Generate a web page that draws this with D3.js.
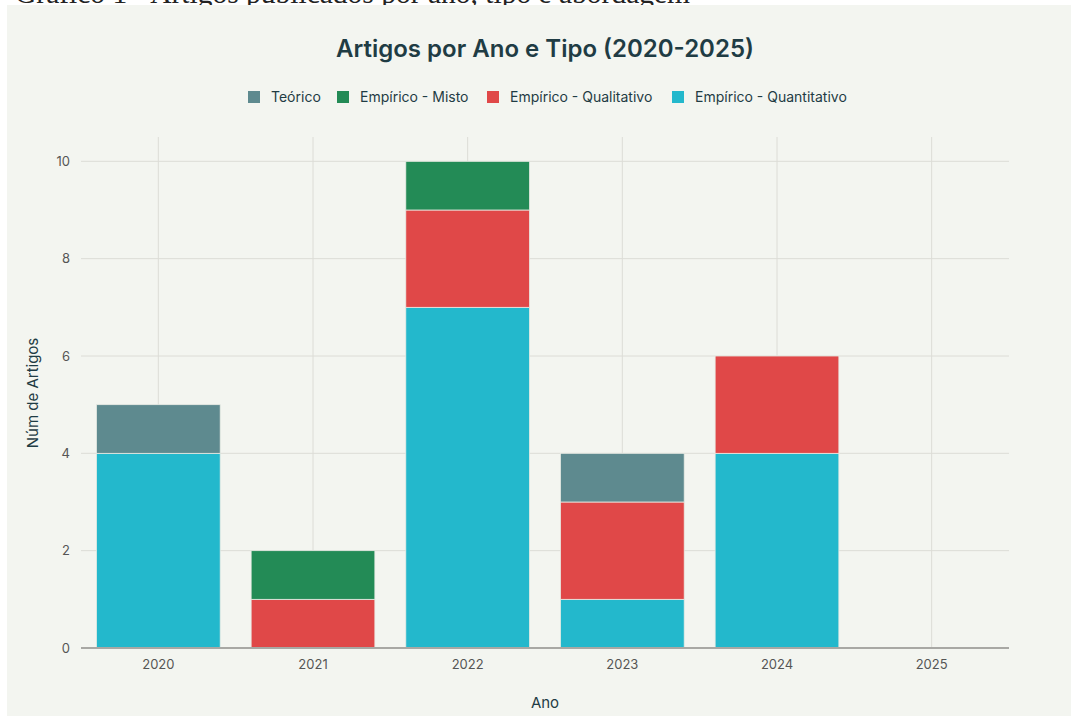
<!DOCTYPE html>
<html><head><meta charset="utf-8">
<script src="https://cdn.jsdelivr.net/npm/d3@7"></script>
<style>body{margin:0;background:#fff;}svg{display:block;}</style>
</head><body>
<script>
const years = ["2020","2021","2022","2023","2024","2025"];
const seriesNames = ["Empírico - Quantitativo","Empírico - Qualitativo","Empírico - Misto","Teórico"];
const quantitativo = [4,0,7,1,4,0];
const qualitativo = [0,1,2,2,2,0];
const misto = [0,1,1,0,0,0];
const teorico = [1,0,0,1,0,0];
const yTicks = [0,2,4,6,8,10];
const legendOrder = ["Teórico","Empírico - Misto","Empírico - Qualitativo","Empírico - Quantitativo"];
const colors = {"Teórico":"#5e8a8f","Empírico - Misto":"#238b56","Empírico - Qualitativo":"#e04848","Empírico - Quantitativo":"#23b8cc"};

const W=1071,H=716;
const font="Inter, 'Open Sans', sans-serif";
const svg=d3.select("body").append("svg").attr("width",W).attr("height",H);
svg.append("text").attr("x",15).attr("y",3).attr("font-family","'Liberation Serif', serif").attr("font-size",29.5).attr("fill","#222")
  .text("Gráfico 1 - Artigos publicados por ano, tipo e abordagem");
svg.append("rect").attr("x",7).attr("y",5).attr("width",W-7).attr("height",H-5).attr("fill","#f3f5f0");

const m={l:81,r:1009,t:137,b:648};
const x=d3.scaleBand().domain(years).range([m.l,m.r]).paddingInner(0.2).paddingOuter(0.1);
const y=d3.scaleLinear().domain([0,10.5]).range([m.b,m.t]);

const g=svg.append("g");
g.selectAll(".hg").data(yTicks.filter(d=>d>0)).join("line").attr("x1",m.l).attr("x2",m.r)
  .attr("y1",d=>y(d)).attr("y2",d=>y(d)).attr("stroke","#dcdcd6").attr("stroke-width",1);
g.selectAll(".vg").data(years).join("line").attr("x1",d=>x(d)+x.bandwidth()/2).attr("x2",d=>x(d)+x.bandwidth()/2)
  .attr("y1",m.t).attr("y2",m.b).attr("stroke","#dcdcd6").attr("stroke-width",1);

const table=years.map((yr,i)=>({year:yr,"Empírico - Quantitativo":quantitativo[i],"Empírico - Qualitativo":qualitativo[i],"Empírico - Misto":misto[i],"Teórico":teorico[i]}));
const stack=d3.stack().keys(seriesNames)(table);
g.selectAll(".s").data(stack).join("g").attr("fill",d=>colors[d.key])
  .selectAll("rect").data(d=>d.filter(p=>p[1]-p[0]>0)).join("rect")
  .attr("x",d=>x(d.data.year)).attr("width",x.bandwidth())
  .attr("y",d=>y(d[1])).attr("height",d=>y(d[0])-y(d[1]))
  .attr("stroke","#e8ebe4").attr("stroke-width",0.8);

const ya=d3.axisLeft(y).tickValues(yTicks).tickSize(0).tickPadding(11);
const yg=svg.append("g").attr("transform",`translate(${m.l},0)`).call(ya);
yg.select(".domain").remove();
yg.selectAll("text").attr("font-family",font).attr("font-size",13).attr("fill","#555");
svg.append("line").attr("x1",m.l).attr("x2",m.r).attr("y1",y(0)).attr("y2",y(0)).attr("stroke","#a8a8a4").attr("stroke-width",2);
const xa=d3.axisBottom(x).tickSize(0).tickPadding(12);
const xg=svg.append("g").attr("transform",`translate(0,${y(0)})`).call(xa);
xg.select(".domain").remove();
xg.selectAll("text").attr("font-family",font).attr("font-size",13).attr("fill","#555");

svg.append("text").attr("x",545).attr("y",57).attr("text-anchor","middle").attr("font-family",font)
  .attr("font-size",24).attr("font-weight",600).attr("fill","#1f3c44").text("Artigos por Ano e Tipo (2020-2025)");
svg.append("text").attr("x",545).attr("y",708).attr("text-anchor","middle").attr("font-family",font)
  .attr("font-size",15).attr("fill","#1f3c44").text("Ano");
svg.append("text").attr("transform","translate(38,393) rotate(-90)").attr("text-anchor","middle").attr("font-family",font)
  .attr("font-size",15).attr("fill","#1f3c44").text("Núm de Artigos");

const lx=[248,337,487,672];
const lg=svg.selectAll(".lg").data(legendOrder).join("g").attr("transform",(d,i)=>`translate(${lx[i]},97)`);
lg.append("rect").attr("x",0).attr("y",-6).attr("width",12).attr("height",12).attr("fill",d=>colors[d]);
lg.append("text").attr("x",23).attr("y",5).attr("font-family",font).attr("font-size",14).attr("fill","#1f3c44").text(d=>d);
</script>
</body></html>
